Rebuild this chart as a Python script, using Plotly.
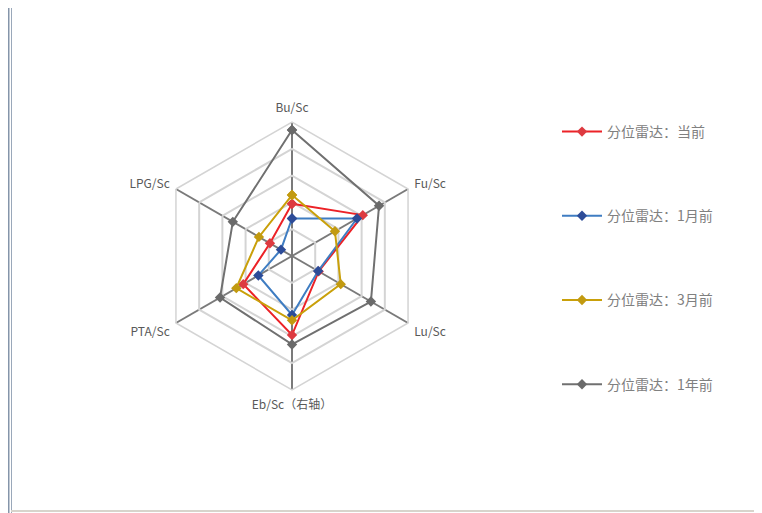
import plotly.graph_objects as go

W, H = 762, 513
OX, OY = 8, 8  # page body margin offset

categories = ["Bu/Sc", "Fu/Sc", "Lu/Sc", "Eb/Sc（右轴）", "PTA/Sc", "LPG/Sc"]
series_names = ["分位雷达：当前", "分位雷达：1月前", "分位雷达：3月前", "分位雷达：1年前"]
current_vals = [0.39, 0.61, 0.23, 0.59, 0.42, 0.19]
month1_vals = [0.28, 0.56, 0.225, 0.44, 0.29, 0.095]
month3_vals = [0.455, 0.37, 0.42, 0.48, 0.48, 0.285]
year1_vals = [0.94, 0.75, 0.68, 0.66, 0.62, 0.51]

line_colors = ["#ec2227", "#3f7dc2", "#c9a00a", "#707070"]
marker_colors = ["#dd3a40", "#2d4c98", "#c29a10", "#6a6a6a"]
all_vals = [current_vals, month1_vals, month3_vals, year1_vals]

fig = go.Figure()
for i, (name, vals) in enumerate(zip(series_names, all_vals)):
    fig.add_trace(go.Scatterpolar(
        r=vals + vals[:1],
        theta=categories + categories[:1],
        mode="lines+markers",
        name=name,
        legendgroup=f"g{i}",
        line=dict(color=line_colors[i], width=2),
        marker=dict(symbol="diamond", size=8, color=marker_colors[i]),
    ))


def px(x):
    return (x - OX) / W


def py(y):
    return 1 - (y - OY) / H


cx, cy, R = 292, 256, 134
fig.update_layout(
    width=W, height=H,
    margin=dict(l=0, r=0, t=0, b=0),
    paper_bgcolor="white",
    plot_bgcolor="white",
    font=dict(family="Noto Sans CJK SC, sans-serif", color="#595959", size=11),
    polar=dict(
        domain=dict(x=[px(cx - R), px(cx + R)], y=[py(cy + R), py(cy - R)]),
        bgcolor="white",
        gridshape="linear",
        radialaxis=dict(range=[0, 1], dtick=0.2, showticklabels=False, ticks="",
                        showline=False, gridcolor="#d4d4d4", gridwidth=1.5),
        angularaxis=dict(rotation=90, direction="clockwise", showline=True,
                         linecolor="#d4d4d4", linewidth=1.5, gridcolor="#7a7a7a",
                         gridwidth=1.5, ticks="outside", ticklen=4,
                         tickcolor="rgba(0,0,0,0)",
                         tickfont=dict(size=12, color="#595959")),
    ),
    legend=dict(
        x=px(557), y=py(116), xanchor="left", yanchor="top",
        font=dict(size=14, color="#808080"),
        tracegroupgap=63, itemwidth=40,
        bgcolor="rgba(0,0,0,0)",
    ),
    shapes=[
        dict(type="line", xref="paper", yref="paper", x0=px(8.5), x1=px(8.5), y0=0, y1=1,
             line=dict(color="#8595aa", width=2)),
        dict(type="line", xref="paper", yref="paper", x0=px(11.5), x1=px(11.5), y0=0, y1=1,
             line=dict(color="#9aa8ba", width=1)),
        dict(type="line", xref="paper", yref="paper", x0=px(757), x1=px(757), y0=py(511), y1=1,
             line=dict(color="#d8d8d8", width=1)),
        dict(type="line", xref="paper", yref="paper", x0=px(11), x1=px(757), y0=py(511), y1=py(511),
             line=dict(color="#d8d4cc", width=2)),
        dict(type="line", xref="paper", yref="paper", x0=px(11), x1=px(757), y0=py(3), y1=py(3),
             line=dict(color="#f0f2ee", width=3)),
    ],
)

fig.write_html("out.html")
